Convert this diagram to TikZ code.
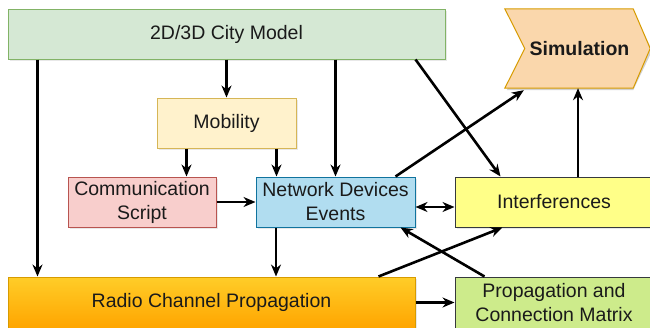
\documentclass[tikz,border=0pt]{standalone}
\usepackage{fontspec}
\setmainfont{Liberation Sans}
\usetikzlibrary{arrows.meta,calc,shadows}

\definecolor{cityfill}{HTML}{D5E8D4}\definecolor{cityline}{HTML}{82B366}
\definecolor{mobfill}{HTML}{FFF2CC}\definecolor{mobline}{HTML}{D6B656}
\definecolor{comfill}{HTML}{F8CECC}\definecolor{comline}{HTML}{B85450}
\definecolor{ndefill}{HTML}{B1DDF0}\definecolor{ndeline}{HTML}{10739E}
\definecolor{intfill}{HTML}{FFFF88}\definecolor{greyline}{HTML}{36393D}
\definecolor{pmfill}{HTML}{CDEB8B}
\definecolor{simfill}{HTML}{FAD7AC}\definecolor{simline}{HTML}{D79B00}
\definecolor{radtop}{HTML}{FFCD28}\definecolor{radbot}{HTML}{FFA500}
\definecolor{txt}{HTML}{1A1A1A}

\begin{document}
\begin{tikzpicture}[x=1pt,y=-1pt,
  font=\fontsize{19.5}{24}\selectfont,text=txt,
  shade/.style={drop shadow={shadow xshift=2pt,shadow yshift=-2pt,opacity=0.18}},
  blk/.style={rectangle,draw,line width=1pt,minimum height=50pt,align=center,inner sep=2pt,shade},
  arr/.style={line width=2.6pt,-{Stealth[length=12pt,width=10pt]}},
  biarr/.style={line width=2.6pt,{Stealth[length=12pt,width=10pt]}-{Stealth[length=12pt,width=10pt]}}]
\useasboundingbox (0,0) rectangle (650,327);

% blocks
\node[blk,fill=cityfill,draw=cityline,minimum width=437pt] (city) at (226.5,34) {2D/3D City Model};
\node[blk,fill=mobfill,draw=mobline,minimum width=139pt] (mob) at (226.5,123) {Mobility};
\node[blk,fill=comfill,draw=comline,minimum width=148pt] (comm) at (142,202) {Communication\\Script};
\node[blk,fill=ndefill,draw=ndeline,minimum width=159pt] (nde) at (335.5,202) {Network Devices\\Events};
\node[blk,fill=intfill,draw=greyline,minimum width=198pt] (intf) at (554,202) {Interferences};
\node[blk,top color=radtop,bottom color=radbot,draw=simline,minimum width=407pt,minimum height=51pt] (radio) at (211.5,302.5) {Radio Channel Propagation};
\node[blk,fill=pmfill,draw=greyline,minimum width=198pt,minimum height=51pt] (pm) at (554,302.5) {Propagation and\\Connection Matrix};

% chevron-shaped simulation step
\node[rectangle,minimum width=145pt,minimum height=79pt,inner sep=0pt] (sim) at (577.5,48.5) {};
\fill[black,opacity=0.18] ([shift={(2pt,-2pt)}]sim.north west) -- ([shift={(-17pt,-2pt)}]sim.north east) -- ([shift={(2pt,-2pt)}]sim.east)
  -- ([shift={(-17pt,-2pt)}]sim.south east) -- ([shift={(2pt,-2pt)}]sim.south west) -- ([shift={(22pt,-2pt)}]sim.west) -- cycle;
\draw[fill=simfill,draw=simline,line width=1pt] (sim.north west) -- ([xshift=-17pt]sim.north east) -- (sim.east)
  -- ([xshift=-17pt]sim.south east) -- (sim.south west) -- ([xshift=20pt]sim.west) -- cycle;
\node[font=\fontsize{19.5}{24}\selectfont\bfseries] at ([xshift=2pt]sim.center) {Simulation};

% connectors
\draw[arr] ([xshift=30pt]city.south west) -- ([xshift=30pt]radio.north west);
\draw[arr] (city.south) -- (mob.north);
\draw[arr] (city.south -| nde.north) -- (nde.north);
\draw[arr] ([xshift=-30pt]city.south east) -- ([xshift=46pt]intf.north west);
\draw[arr] ([xshift=30pt]mob.south west) -- ([xshift=30pt]mob.south west |- comm.north);
\draw[arr] ([xshift=-20pt]mob.south east) -- ([xshift=-20pt]mob.south east |- nde.north);
\draw[arr] (comm.east) -- (nde.west);
\draw[biarr] ([yshift=-5pt]nde.east) -- ([yshift=-5pt]intf.west);
\draw[arr] ([xshift=-20pt]nde.north east) -- ([xshift=19pt,yshift=-2pt]sim.south west);
\draw[arr] ([xshift=24pt]intf.north) -- ([xshift=24pt]intf.north |- sim.south);
\draw[arr] ([xshift=-59.5pt]nde.south) -- ([xshift=-59.5pt]nde.south |- radio.north);
\draw[arr] ([xshift=-37pt]radio.north east) -- ([xshift=48pt]intf.south west);
\draw[arr] ([xshift=30pt]pm.north west) -- ([xshift=-15pt]nde.south east);
\draw[arr] (radio.east) -- (pm.west);
\end{tikzpicture}
\end{document}
